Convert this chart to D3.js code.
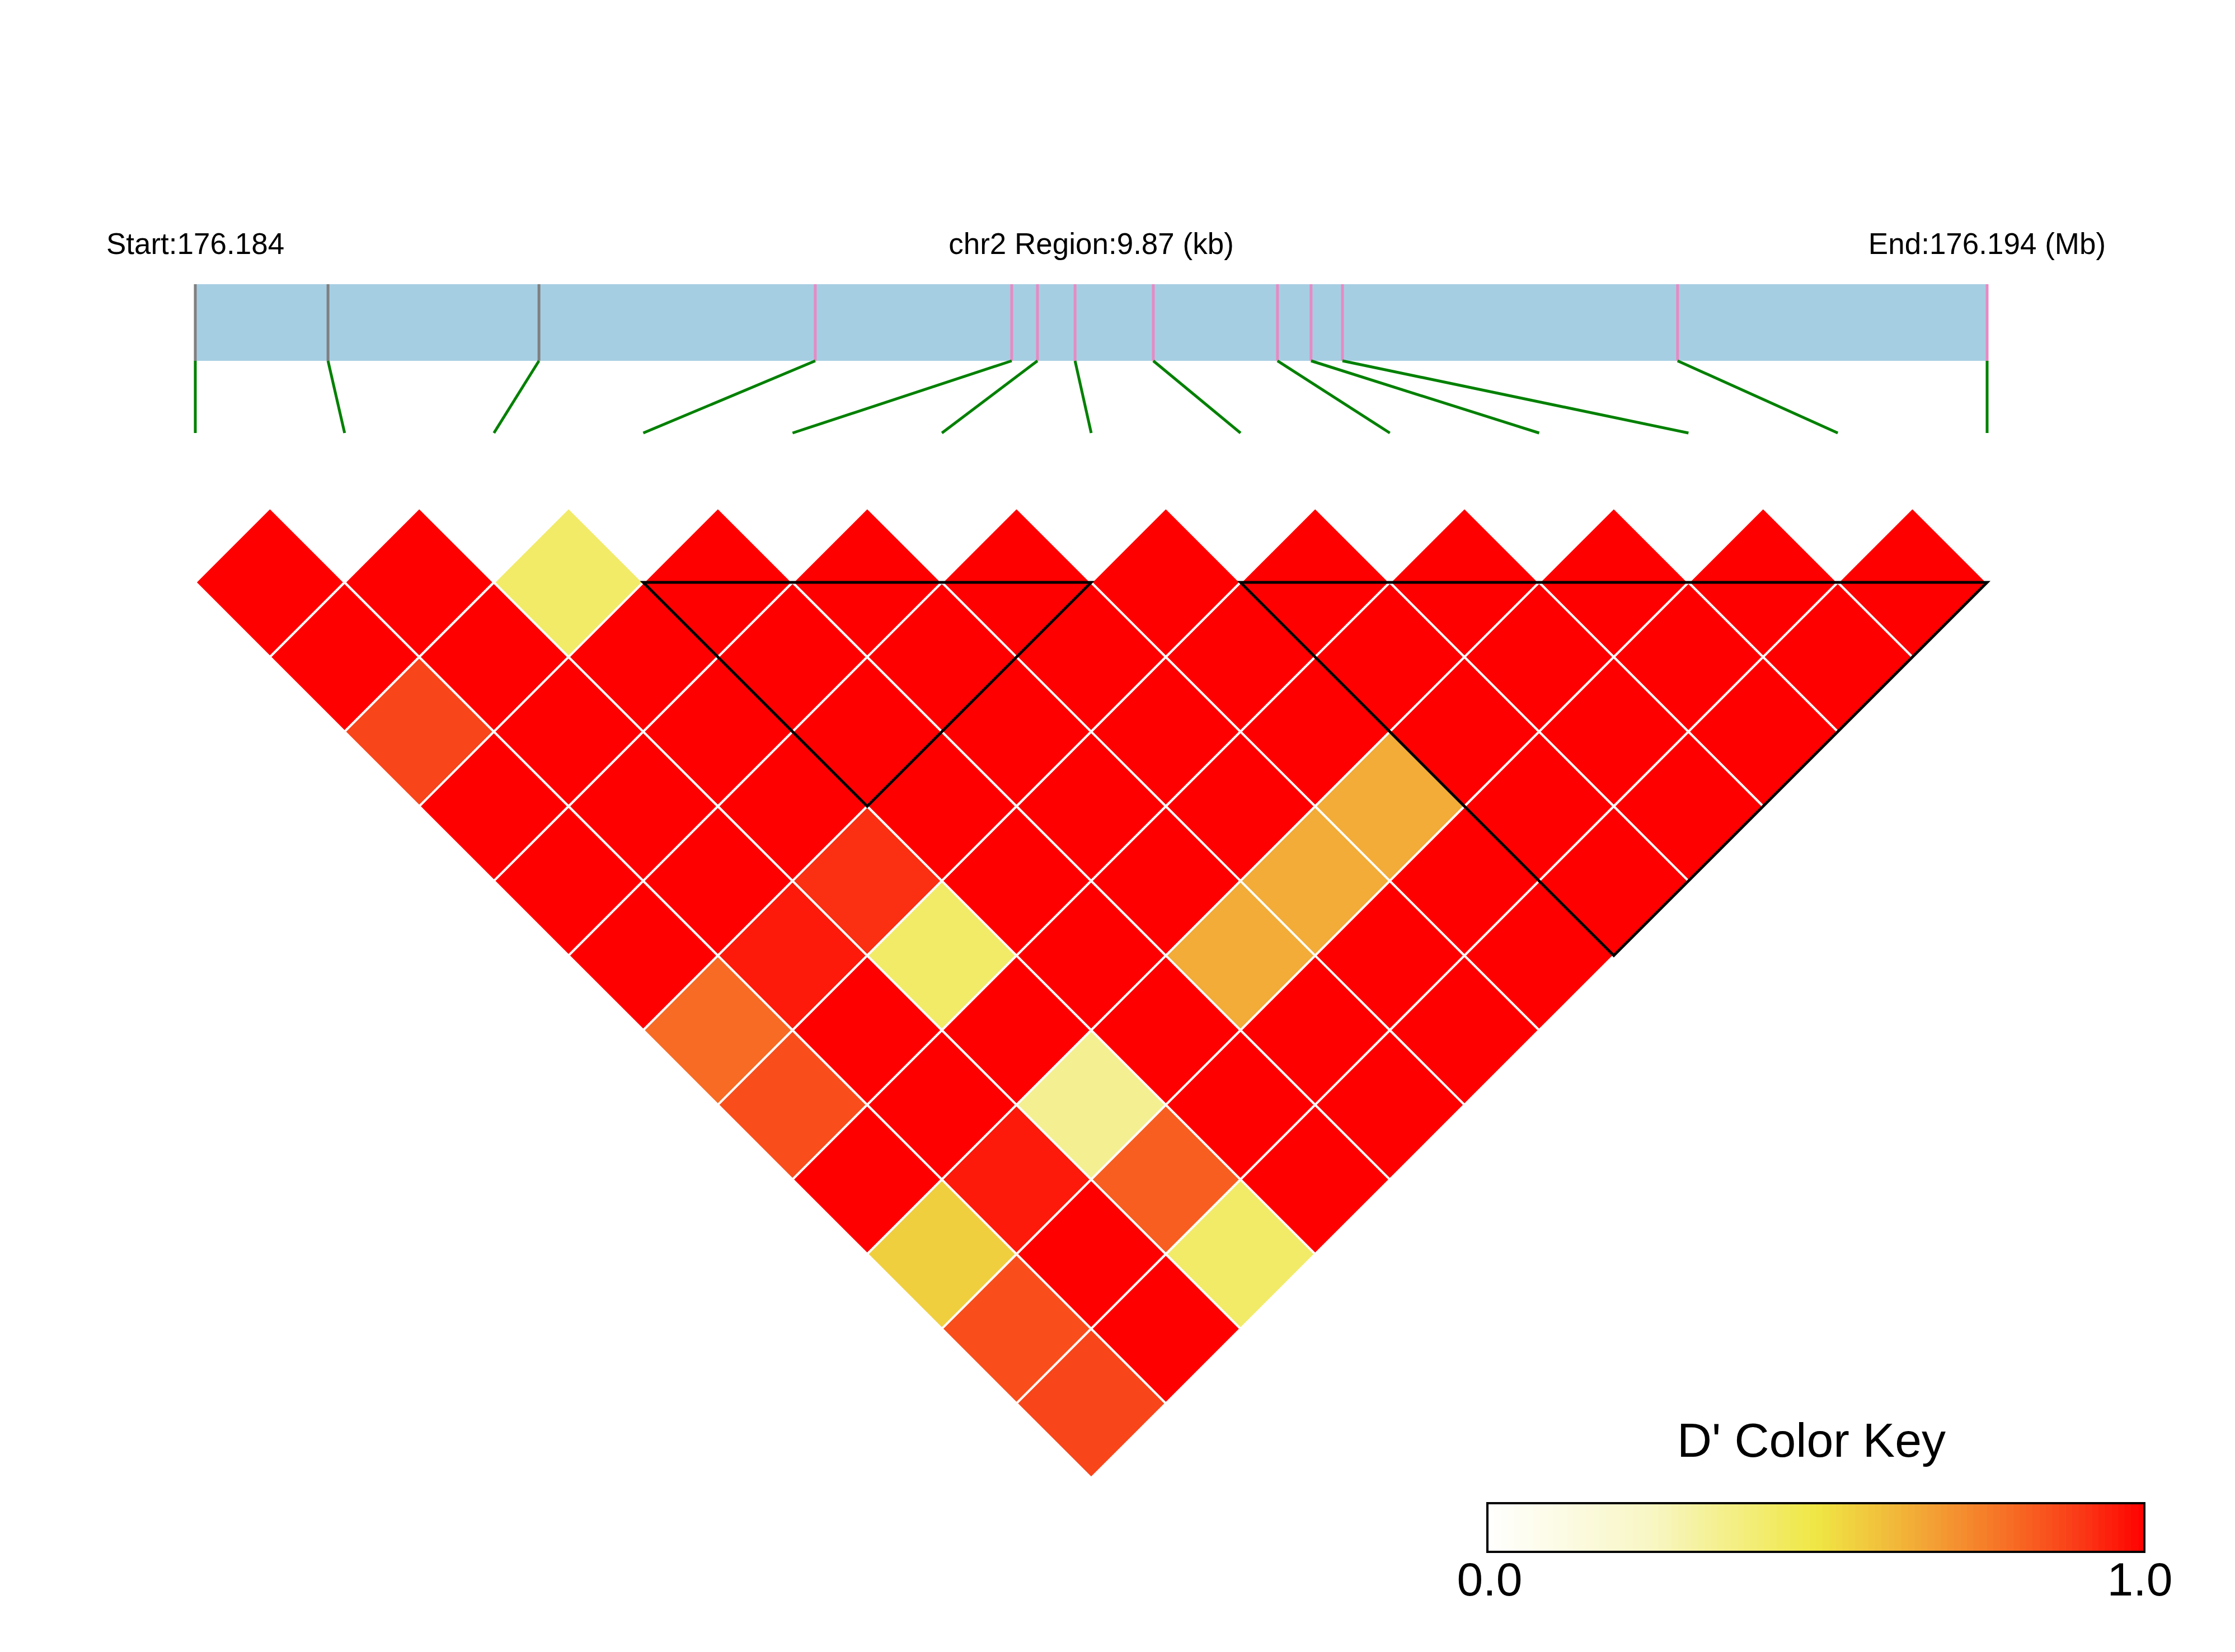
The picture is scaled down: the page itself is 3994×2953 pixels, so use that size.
<!DOCTYPE html>
<html>
<head>
<meta charset="utf-8">
<script src="https://cdn.jsdelivr.net/npm/d3@7"></script>
<style>
  html, body { margin: 0; padding: 0; background: #ffffff; }
  svg { display: block; }
  text { font-family: "Liberation Sans", Arial, Helvetica, sans-serif; fill: #000; }
</style>
</head>
<body>
<svg id="chart" width="3994" height="2953"></svg>
<script>
// ---------------- DATA ----------------
const chrom = "chr2";
const regionStart = 176184200;          // bp
const regionEnd   = 176194070;          // bp
// SNP physical positions (bp offsets from regionStart)
const snpOffsets = [0, 731, 1893, 3415, 4497, 4639, 4846, 5277, 5961, 6146, 6319, 8165, 9870];
// LD blocks (first SNP index, last SNP index)
const blocks = [[3, 6], [7, 12]];
// D' values, lower triangle: dPrime[j][i] for i < j
const dPrime = [
  [],
  [1],
  [1, 1],
  [0.88, 1, 0.43],
  [1, 1, 1, 1],
  [1, 1, 1, 1, 1],
  [1, 1, 1, 1, 1, 1],
  [0.80, 0.956, 0.92, 1, 1, 1, 1],
  [0.86, 1, 0.43, 1, 1, 1, 1, 1],
  [1, 1, 1, 1, 1, 1, 1, 1, 1],
  [0.56, 0.956, 0.35, 1, 0.65, 0.65, 0.65, 1, 1, 1],
  [0.86, 1, 0.827, 1, 1, 1, 1, 1, 1, 1, 1],
  [0.88, 1, 0.43, 1, 1, 1, 1, 1, 1, 1, 1, 1]
];
// colour key
const keyTitle = "D' Color Key";
const keyTicks = [0, 1];
const keyStops = [0, 0.25, 0.5, 0.65, 0.8, 0.9, 1];
const keyColors = ["#ffffff", "#f8f6c4", "#efe744", "#f2ac37", "#f76b24", "#fa3b17", "#ff0000"];

// ---------------- LAYOUT ----------------
const svg = d3.select("#chart");
const left = 349, right = 3551;
const lineY = 1041;
const barTop = 508, barBottom = 645, connBottom = 774;
const nSnp = snpOffsets.length;

const posX = d3.scaleLinear().domain([regionStart, regionEnd]).range([left, right]);
const idxX = d3.scaleLinear().domain([0, nSnp - 1]).range([left, right]);
const half = (idxX(1) - idxX(0)) / 2;
const distY = d3.scaleLinear().domain([1, nSnp - 1]).range([lineY, lineY + (nSnp - 2) * half]);
const color = d3.scaleLinear().domain(keyStops).range(keyColors).interpolate(d3.interpolateRgb).clamp(true);

// ---------------- HEADER TEXT ----------------
const fmt3 = d3.format(".3f");
const header = [
  {x: posX(regionStart), t: "Start:" + fmt3(regionStart / 1e6)},
  {x: (posX(regionStart) + posX(regionEnd)) / 2, t: chrom + " Region:" + d3.format(".2f")((regionEnd - regionStart) / 1000) + " (kb)"},
  {x: posX(regionEnd), t: "End:" + fmt3(regionEnd / 1e6) + " (Mb)"}
];
svg.selectAll("text.hdr").data(header).join("text")
  .attr("class", "hdr")
  .attr("x", d => d.x).attr("y", 454)
  .attr("text-anchor", "middle")
  .attr("font-size", 53)
  .text(d => d.t);

// ---------------- GENOMIC BAR ----------------
svg.append("rect")
  .attr("x", posX(regionStart)).attr("y", barTop)
  .attr("width", posX(regionEnd) - posX(regionStart))
  .attr("height", barBottom - barTop)
  .attr("fill", "#a6cee3");

const inBlock = i => blocks.some(b => i >= b[0] && i <= b[1]);
const snps = snpOffsets.map((o, i) => ({i, pos: regionStart + o}));

svg.selectAll("line.snp").data(snps).join("line")
  .attr("class", "snp")
  .attr("x1", d => posX(d.pos)).attr("x2", d => posX(d.pos))
  .attr("y1", barTop).attr("y2", barBottom)
  .attr("stroke", d => inBlock(d.i) ? "#e78ac3" : "#808080")
  .attr("stroke-width", 5);

svg.selectAll("line.conn").data(snps).join("line")
  .attr("class", "conn")
  .attr("x1", d => posX(d.pos)).attr("y1", barBottom)
  .attr("x2", d => idxX(d.i)).attr("y2", connBottom)
  .attr("stroke", "#008000")
  .attr("stroke-width", 5);

// ---------------- LD HEATMAP ----------------
const cells = [];
dPrime.forEach((row, j) => row.forEach((v, i) => cells.push({i, j, v})));

svg.append("g").selectAll("path").data(cells).join("path")
  .attr("d", d => {
    const cx = idxX((d.i + d.j) / 2), cy = distY(d.j - d.i);
    return `M${cx},${cy - half}L${cx + half},${cy}L${cx},${cy + half}L${cx - half},${cy}Z`;
  })
  .attr("fill", d => color(d.v))
  .attr("stroke", "#ffffff")
  .attr("stroke-width", 4)
  .attr("stroke-linejoin", "miter");

// block outlines
svg.append("g").selectAll("path").data(blocks).join("path")
  .attr("d", b => {
    const x1 = idxX(b[0]), x2 = idxX(b[1]);
    const bx = idxX((b[0] + b[1]) / 2), by = lineY + (b[1] - b[0]) * half;
    return `M${x1},${lineY}L${x2},${lineY}L${bx},${by}Z`;
  })
  .attr("fill", "none")
  .attr("stroke", "#000000")
  .attr("stroke-width", 5)
  .attr("stroke-linejoin", "miter");

// ---------------- COLOUR KEY ----------------
const keyX = d3.scaleLinear().domain([0, 1]).range([2658, 3832]);
const keyTop = 2687, keyBottom = 2774;
const nBands = 100;
const bands = d3.range(nBands).map(k => k / nBands);
svg.append("g").selectAll("rect").data(bands).join("rect")
  .attr("x", d => keyX(d))
  .attr("y", keyTop)
  .attr("width", keyX(1 / nBands) - keyX(0) + 0.6)
  .attr("height", keyBottom - keyTop)
  .attr("fill", d => color(d + 0.5 / nBands));
svg.append("rect")
  .attr("x", keyX(0)).attr("y", keyTop)
  .attr("width", keyX(1) - keyX(0)).attr("height", keyBottom - keyTop)
  .attr("fill", "none").attr("stroke", "#000").attr("stroke-width", 4);

svg.append("text")
  .attr("x", (keyX(0) + keyX(1)) / 2 - 8).attr("y", 2604)
  .attr("text-anchor", "middle")
  .attr("font-size", 86)
  .text(keyTitle);

svg.selectAll("text.ktick").data(keyTicks).join("text")
  .attr("class", "ktick")
  .attr("x", d => keyX(d) + (d === 1 ? -8 : 4)).attr("y", 2852)
  .attr("text-anchor", "middle")
  .attr("font-size", 84)
  .text(d => d3.format(".1f")(d));
</script>
</body>
</html>
